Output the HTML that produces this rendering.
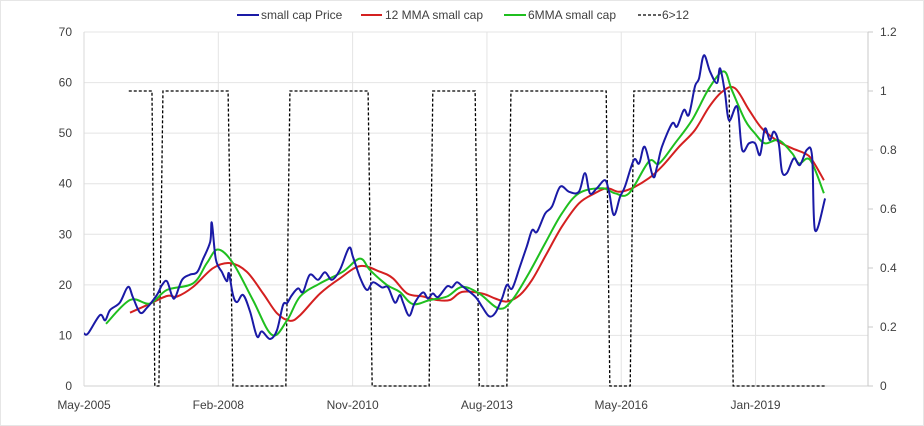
<!DOCTYPE html>
<html><head><meta charset="utf-8"><style>
body{margin:0;background:#fff}
svg{display:block;font-family:"Liberation Sans",sans-serif}
</style></head><body>
<svg id="chart" width="924" height="426" viewBox="0 0 924 426">
<rect x="0.5" y="0.5" width="923" height="425" fill="#fff" stroke="#e6e6e6"/>
<g id="grid"></g>
<g id="axes"></g>
<g id="series"></g>
<g id="legend" font-size="12" fill="#404040">
 <g><line x1="237" y1="15" x2="259" y2="15" stroke="#1a1aa6" stroke-width="2"/><text x="261" y="19">small cap Price</text></g>
 <g><line x1="361" y1="15" x2="382" y2="15" stroke="#d42020" stroke-width="2"/><text x="385" y="19">12 MMA small cap</text></g>
 <g><line x1="504" y1="15" x2="526" y2="15" stroke="#1fbf1f" stroke-width="2"/><text x="528" y="19">6MMA small cap</text></g>
 <g><line x1="638" y1="15" x2="661" y2="15" stroke="#000" stroke-width="1.3" stroke-dasharray="3,2"/><text x="662" y="19">6&gt;12</text></g>
</g>
</svg>
<script>
const xTickMonths=[0,33,66,99,132,165];
const xTickLabels=["May-2005","Feb-2008","Nov-2010","Aug-2013","May-2016","Jan-2019"];
const leftTicks=[0,10,20,30,40,50,60,70];
const rightTicks=[0,0.2,0.4,0.6,0.8,1,1.2];
const rightTickLabels=["0","0.2","0.4","0.6","0.8","1","1.2"];
const priceMonths=[0,1,3.9,5.2,6.4,8.8,10.8,12,13.8,15.5,17.9,19.2,20.4,21.6,22.4,24.1,26,27.8,29.2,31,31.4,32.4,33.9,35.1,35.6,36.6,37.6,39.1,40.8,42.5,43.7,45.7,47.4,48.9,49.9,51.1,52.6,53.8,55.5,57.5,59.2,60.9,62.9,65.1,66.1,67.8,69.5,71,73.2,74.7,76.4,77.6,78.4,79.9,81.3,83.3,84.5,85.7,87,89.2,90.4,91.6,92.9,96.1,97.8,99.5,101,102.7,103.9,105.2,107.1,108.8,110.1,111.3,113.3,115,117,119.2,121.6,123.1,124.3,126,128,129,130.2,131.7,132.9,135.1,136.4,137.8,139.8,140.8,142,144.5,145.7,147.4,148.6,150.1,151.1,152.3,153.8,155.5,156.3,157.5,158.5,160.5,161.7,163.4,164.9,166.1,167.3,168.5,169.5,170.7,171.5,172.7,174.4,175.9,177.6,178.9,179.6,182.1];
const priceValues=[10.4,10.4,14,13,15,16.5,19.6,17.6,14.5,15.5,18,20,20.7,17.9,17.5,21,22,22.5,25,28.5,32.3,25,22.5,20.7,22.3,18,16.6,18,14.7,9.8,10.8,9.3,11,16,16.4,18,19.3,18.6,22,21,22.5,21,23,27.3,25.5,21.5,19,20.5,19.5,19.5,16.5,18,16.5,13.9,16.5,18.5,17.3,18.3,17.6,19.7,19.5,20.5,19.8,17.7,15.7,13.8,14.4,17.3,20,19.3,23.6,27.6,30.8,30.5,34.1,35.5,39.4,38.4,38.4,42.1,38.1,39.1,40.7,38.4,33.8,37.4,39.4,44.7,44,47.3,41.4,43.4,47.3,51.9,51.3,54.6,53.6,59.2,60.8,65.4,62.2,59.9,62.8,57.9,52.5,55.2,46.7,48,48,45.7,50.9,48.6,50.3,48,42.4,42.1,45,43.7,46.7,45.4,30.8,37.1];
const ma12Months=[11.3,15.5,20.4,22.9,26.8,31.7,35.9,40,44,47.4,50.6,53.1,58,62.9,67.8,72.7,75.9,79.4,83.3,86.7,89.9,92.9,97.8,101,103.9,107.1,110.1,113.3,117.4,121.6,125.5,128.5,131.4,134.6,138.8,142,146.2,150.1,153.6,156.8,159.9,163.4,166.6,170.7,174,177.1,178.9,181.8];
const ma12Values=[14.5,16,17.8,17.7,19.6,23.3,24.3,22.6,18.3,14.4,12.9,14,18.3,21.3,23.7,22.6,21.3,18.3,17.7,17,17,18.6,18.3,17.3,16.7,18,21,25.6,31.5,36.1,38.1,39.1,38.4,39.1,41.1,43.4,47.3,50.6,55.2,58.2,58.9,54.6,50.9,48.3,47,46,44.7,40.7];
const ma6Months=[5.4,11.3,16.2,20.4,26.8,30.2,32.9,36.6,41.5,46.2,49.9,53.1,58,63.6,67.8,70.3,74.4,77.6,80.8,85,89.2,92.9,97.1,102,105.2,109.3,113.3,117.4,121.6,127.3,130.5,133.9,138.8,141.3,145.2,149.4,153.6,157.2,159.2,162.4,164.9,167.3,170.7,174,175.7,178.4,181.8];
const ma6Values=[12.3,17,16.3,19,20.3,24.3,27,24.3,17,10.1,13,17.7,20.3,22.6,25.2,22.9,20,18.6,16.2,17,17.7,19.6,18.3,15.3,17,22.3,28.2,34.1,38.1,39.1,38.1,38.1,44.4,44,48,52.6,58.9,62.2,58.5,52.6,49.9,48,48.6,46,44,44.7,38.1];
const signalMonths=[11,16.7,17.4,18.4,19.4,35.4,36.6,49.6,50.6,69.8,70.8,84.8,85.7,96.1,97.1,103.9,104.9,128.3,129.2,134.2,135.1,158.5,159.5,182.1];
const signalValues=[1,1,0,0,1,1,0,0,1,1,0,0,1,1,0,0,1,1,0,0,1,1,0,0];

const NS="http://www.w3.org/2000/svg";
const X0=84,X1=868,Y0=386,Y1=32;
const xScale=m=>X0+m*4.07;
const yL=v=>Y0-(v/70)*(Y0-Y1);
const yR=v=>Y0-(v/1.2)*(Y0-Y1);
function mk(tag,attrs,parent){const e=document.createElementNS(NS,tag);for(const k in attrs)e.setAttribute(k,attrs[k]);parent.appendChild(e);return e;}
const grid=document.getElementById('grid'),axes=document.getElementById('axes'),series=document.getElementById('series');
leftTicks.forEach(v=>{
  if(v>0){const l=mk('line',{x1:X0,x2:X1,y1:yL(v),y2:yL(v),stroke:'#e4e4e4','stroke-width':1},grid);
  
  }
  const t=mk('text',{x:72,y:yL(v)+4,'text-anchor':'end','font-size':12,fill:'#404040'},axes);
  t.textContent=String(v);
  
  
});
xTickMonths.forEach((m,i)=>{
  if(m>0){const l=mk('line',{x1:xScale(m),x2:xScale(m),y1:Y1,y2:Y0,stroke:'#e4e4e4','stroke-width':1},grid);
  
  }
  const t=mk('text',{x:xScale(m),y:409,'text-anchor':'middle','font-size':12,fill:'#404040'},axes);
  t.textContent=xTickLabels[i];
  
  
});
const ax=mk('line',{x1:X0,x2:X1,y1:Y0,y2:Y0,stroke:'#d0d0d0'},axes);


const la=mk('line',{x1:X0,x2:X0,y1:Y1,y2:Y0,stroke:'#d9d9d9'},axes);


const ra=mk('line',{x1:X1,x2:X1,y1:Y1,y2:Y0,stroke:'#c8c8c8'},axes);


rightTicks.forEach((v,i)=>{
  const tk=mk('line',{x1:X1,x2:X1+5,y1:yR(v),y2:yR(v),stroke:'#c8c8c8'},axes);
  
  
  const t=mk('text',{x:880,y:yR(v)+4,'font-size':12,fill:'#404040'},axes);
  t.textContent=rightTickLabels[i];
  
  
});
function smooth(pts){
  let d='M'+pts[0][0].toFixed(1)+','+pts[0][1].toFixed(1);
  for(let i=0;i<pts.length-1;i++){
    const p0=pts[i-1]||pts[i],p1=pts[i],p2=pts[i+1],p3=pts[i+2]||p2,t=0.17;
    const c1=[p1[0]+(p2[0]-p0[0])*t,p1[1]+(p2[1]-p0[1])*t];
    const c2=[p2[0]-(p3[0]-p1[0])*t,p2[1]-(p3[1]-p1[1])*t];
    d+=' C'+c1[0].toFixed(1)+','+c1[1].toFixed(1)+' '+c2[0].toFixed(1)+','+c2[1].toFixed(1)+' '+p2[0].toFixed(1)+','+p2[1].toFixed(1);
  }
  return d;
}
const sig=mk('polyline',{points:signalMonths.map((m,i)=>xScale(m)+','+yR(signalValues[i])).join(' '),fill:'none',stroke:'#000','stroke-width':1.3,'stroke-dasharray':'3,2'},series);


const p12=mk('path',{d:smooth(ma12Months.map((m,i)=>[xScale(m),yL(ma12Values[i])])),fill:'none',stroke:'#d42020','stroke-width':2},series);


const p6=mk('path',{d:smooth(ma6Months.map((m,i)=>[xScale(m),yL(ma6Values[i])])),fill:'none',stroke:'#1fbf1f','stroke-width':2},series);


const pp=mk('path',{d:smooth(priceMonths.map((m,i)=>[xScale(m),yL(priceValues[i])])),fill:'none',stroke:'#1a1aa6','stroke-width':2},series);


</script>
</body></html>
